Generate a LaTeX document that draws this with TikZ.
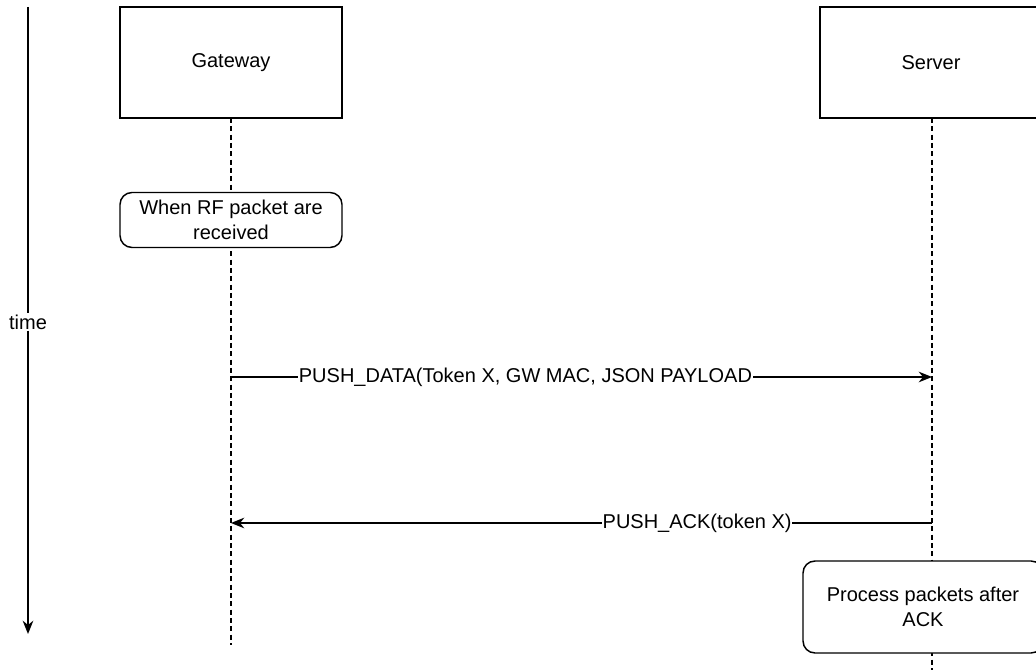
\documentclass[tikz,border=0pt]{standalone}
\usepackage{fontspec}
\setmainfont{Liberation Sans}
\usetikzlibrary{arrows.meta}
\begin{document}
\begin{tikzpicture}[x=0.75pt,y=-0.75pt,
  font=\fontsize{15}{18.5}\selectfont,
  line width=1.1pt,
  actor/.style={draw, minimum width=222*0.75pt, minimum height=111*0.75pt, inner sep=0pt},
  note/.style={draw, rounded corners=9pt, inner sep=0pt, align=center, fill=white},
  lifeline/.style={dash pattern=on 3.75pt off 2.5pt, line width=0.9pt},
  msg/.style={-{Stealth[length=10pt,width=8pt]}},
  lbl/.style={fill=white, inner sep=0.5pt}]
\useasboundingbox (0,0) rectangle (1036,670);

% time axis
\coordinate (t0) at (28,7);
\coordinate (t1) at (28,634);
\node[lbl] (timelbl) at (28,322) {time};
\draw (t0) -- (timelbl.north);
\draw[msg] (timelbl.south) -- (t1);

% participants
\node[actor] (gw) at (231,62.5) {Gateway};
\node[actor] (srv) at (931,62.5) {Server};

% lifelines
\coordinate (gwend) at (231,645);
\coordinate (srvend) at (932,672);
\coordinate (gwtop) at (231,118);
\coordinate (srvtop) at (932,118);
\draw[lifeline] (gwtop) -- (gwend);
\draw[lifeline] (srvtop) -- (srvend);

% notes
\node[note, minimum width=222*0.75pt, minimum height=55*0.75pt] (rf) at (231,220) {When RF packet are\\received};
\node[note, minimum width=240*0.75pt, minimum height=92*0.75pt] (proc) at (923,607) {Process packets after\\ACK};

% messages
\coordinate (d0) at (231,377);
\coordinate (d1) at (932,377);
\coordinate (a0) at (932,523);
\coordinate (a1) at (231,523);
\draw[msg] (d0) -- node[lbl, pos=0.42] (dlbl) {PUSH\_DATA(Token X, GW MAC, JSON PAYLOAD} (d1);
\draw[msg] (a0) -- node[lbl, pos=0.335] (albl) {PUSH\_ACK(token X)} (a1);
\end{tikzpicture}
\end{document}
